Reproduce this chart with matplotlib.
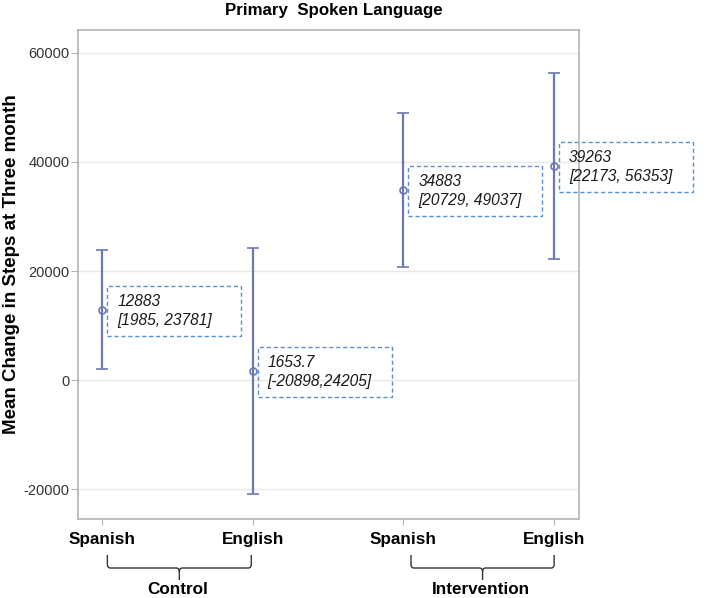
import matplotlib.pyplot as plt
from matplotlib.patches import Rectangle, Path, PathPatch
from matplotlib.transforms import ScaledTranslation, blended_transform_factory

plt.rcParams['font.family'] = ['Liberation Sans', 'DejaVu Sans']
plt.rcParams['axes.unicode_minus'] = False

# data
groups = ['Control', 'Intervention']
languages = ['Spanish', 'English', 'Spanish', 'English']
means = [12883, 1653.7, 34883, 39263]
lower = [1985, -20898, 20729, 22173]
upper = [23781, 24205, 49037, 56353]
mean_txt = ['12883', '1653.7', '34883', '39263']
ci_txt = ['[1985, 23781]', '[-20898,24205]', '[20729, 49037]', '[22173, 56353]']

bar_col = '#6b78b5'
box_col = '#5a8fd2'
frame_col = '#b4b4b4'

fig = plt.figure(figsize=(7.11, 5.98), dpi=100)
ax = fig.add_axes([78/711, 1 - 519/598, (579 - 78)/711, (519 - 30)/598])

xs = [1, 2, 3, 4]
err_lo = [m - l for m, l in zip(means, lower)]
err_hi = [u - m for m, u in zip(means, upper)]
ax.errorbar(xs, means, yerr=[err_lo, err_hi], fmt='o', color=bar_col,
            mfc='none', mec=bar_col, ms=5, mew=1.2, elinewidth=1.6,
            capsize=4, capthick=1.6, zorder=3)

ax.set_xlim(0.84, 4.165)
ax.set_ylim(-25480, 64200)
ax.set_yticks([-20000, 0, 20000, 40000, 60000])
ax.set_xticks(xs)
ax.set_xticklabels(languages, fontsize=12.3, fontweight='bold')
ax.tick_params(axis='y', labelsize=10.5, labelcolor='#333333', color=frame_col,
               length=5, pad=1)
ax.tick_params(axis='x', color=frame_col, length=4.5, pad=5)
ax.yaxis.grid(True, color='#e8e8e8', lw=1)
ax.set_axisbelow(True)
for s in ax.spines.values():
    s.set_color(frame_col)
    s.set_linewidth(1.2)

fig.text(12/711, 1 - 264/598, 'Mean Change in Steps at Three month',
         rotation=90, ha='center', va='center', fontsize=13.5, fontweight='bold')
fig.text(334/711, 1 - 11/598, 'Primary  Spoken Language',
         ha='center', va='center', fontsize=12.2, fontweight='bold')

# dashed label boxes, fixed size in pixels next to each point
for x, m, t1, t2 in zip(xs, means, mean_txt, ci_txt):
    tr = fig.dpi_scale_trans + ScaledTranslation(x, m, ax.transData)
    ax.add_patch(Rectangle((0.05, -0.26), 1.34, 0.50, transform=tr, fill=False,
                           ec=box_col, ls=(0, (3, 2)), lw=1, clip_on=False))
    ax.text(0.15, -0.01, t1 + '\n' + t2, transform=tr, ha='left', va='center',
            fontsize=11.2, fontstyle='italic', color='#1a1a1a', linespacing=1.3,
            clip_on=False)

# group brackets under the tick labels
btr = blended_transform_factory(ax.transData, fig.transFigure)
y_top, y_mid, y_bot = 1 - 555/598, 1 - 568/598, 1 - 580/598
r = 0.02
for g, (a, b) in zip(groups, [(1.035, 1.99), (3.05, 4.0)]):
    c = (a + b) / 2
    dy = 0.006
    verts = [(a, y_top), (a, y_mid + dy), (a, y_mid), (a + r, y_mid),
             (c - r, y_mid), (c, y_mid), (c, y_mid - dy), (c, y_bot),
             (c, y_mid - dy), (c, y_mid), (c + r, y_mid),
             (b - r, y_mid), (b, y_mid), (b, y_mid + dy), (b, y_top)]
    codes = [Path.MOVETO, Path.LINETO, Path.CURVE3, Path.CURVE3,
             Path.LINETO, Path.CURVE3, Path.CURVE3, Path.LINETO,
             Path.MOVETO, Path.CURVE3, Path.CURVE3,
             Path.LINETO, Path.CURVE3, Path.CURVE3, Path.LINETO]
    ax.add_patch(PathPatch(Path(verts, codes), transform=btr, fill=False,
                           ec='#333333', lw=1, clip_on=False))
    ax.text(c - 0.01, 1 - 590/598, g, transform=btr, ha='center', va='center',
            fontsize=12.3, fontweight='bold')

fig.savefig('out.png', dpi=100)
